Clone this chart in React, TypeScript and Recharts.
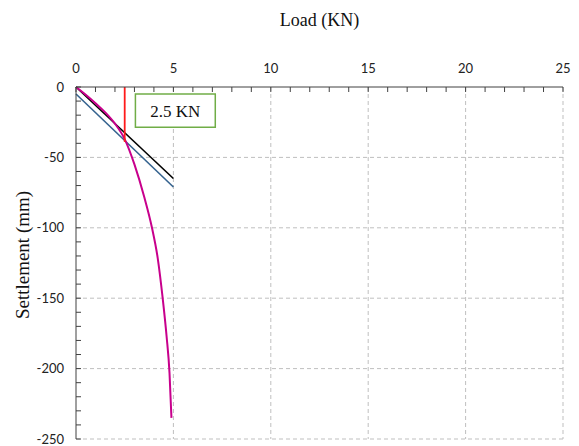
import React from 'react';
import { LineChart, Line, XAxis, YAxis, CartesianGrid, ReferenceArea } from 'recharts';

// Load (KN) vs settlement (mm) readings
const curveLoad = [0, 0.5, 1, 1.5, 2, 2.5, 3, 3.5, 3.9, 4.2, 4.45, 4.65, 4.8, 4.9];
const curveSettle = [0, -5.5, -11.5, -18, -26, -37, -55, -78, -100, -122, -150, -177, -203, -235];

const blackLoad = [0, 5];
const blackSettle = [0, -65];

const blueLoad = [0, 5];
const blueSettle = [-5, -71];

const redLoad = [2.5, 2.5];
const redSettle = [0, -39];

const xTicks = [...Array(26).keys()];
const yTicks = [...Array(26).keys()].map(i => -i * 10);
const xMajor = [5, 10, 15, 20, 25];
const yMajor = [-50, -100, -150, -200, -250];

const toPoints = (xs: number[], ys: number[]) => xs.map((x, i) => ({ x, y: ys[i] }));

const tickStyle = { fontFamily: 'Lato, sans-serif', fontSize: 13, fill: '#222' };
const serif = '"Liberation Serif", "Times New Roman", serif';

const App: React.FC = () => {
  return (
    <div style={{ position: 'absolute', left: 0, top: 0, background: '#fff' }}>
      <LineChart
        width={579}
        height={446}
        margin={{ top: 47, right: 16, bottom: 7, left: 16 }}
      >
        <CartesianGrid
          stroke="#BFBFBF"
          strokeDasharray="4 3"
          horizontalValues={yMajor}
          verticalValues={xMajor}
        />
        <XAxis
          type="number"
          dataKey="x"
          orientation="top"
          domain={[0, 25]}
          ticks={xTicks}
          interval={0}
          height={40}
          tickSize={-5}
          tickMargin={19}
          tick={tickStyle}
          tickFormatter={(v: number) => (v % 5 === 0 ? String(v) : '')}
          stroke="#404040"
          label={{ value: 'Load (KN)', position: 'top', offset: 21, fontFamily: serif, fontSize: 18, fill: '#111' }}
        />
        <YAxis
          type="number"
          dataKey="y"
          domain={[-250, 0]}
          ticks={yTicks}
          interval={0}
          width={60}
          tickSize={-5}
          tickMargin={17}
          tick={tickStyle}
          tickFormatter={(v: number) => (v % 50 === 0 ? String(v) : '')}
          stroke="#404040"
          label={{
            content: ({ viewBox }: any) => {
              const cx = viewBox.x + 6;
              const cy = viewBox.y + viewBox.height / 2 - 8;
              return (
                <text
                  x={cx}
                  y={cy}
                  transform={`rotate(-90 ${cx} ${cy})`}
                  textAnchor="middle"
                  dominantBaseline="central"
                  fontFamily={serif}
                  fontSize={19}
                  fill="#111"
                >
                  Settlement (mm)
                </text>
              );
            },
          }}
        />
        <Line
          data={toPoints(blackLoad, blackSettle)}
          dataKey="y"
          type="linear"
          stroke="#000000"
          strokeWidth={1.6}
          dot={false}
          isAnimationActive={false}
        />
        <Line
          data={toPoints(blueLoad, blueSettle)}
          dataKey="y"
          type="linear"
          stroke="#35638F"
          strokeWidth={1.6}
          dot={false}
          isAnimationActive={false}
        />
        <Line
          data={toPoints(curveLoad, curveSettle)}
          dataKey="y"
          type="monotone"
          stroke="#C8008C"
          strokeWidth={2}
          dot={false}
          isAnimationActive={false}
        />
        <Line
          data={toPoints(redLoad, redSettle)}
          dataKey="y"
          type="linear"
          stroke="#FF1A1A"
          strokeWidth={1.8}
          dot={false}
          isAnimationActive={false}
        />
        <ReferenceArea
          x1={3.05}
          x2={7.15}
          y1={-5}
          y2={-28.5}
          fill="#ffffff"
          fillOpacity={1}
          stroke="#70AD47"
          strokeWidth={1.5}
          label={{ value: '2.5 KN', position: 'center', fontFamily: serif, fontSize: 17, fill: '#111' }}
        />
      </LineChart>
    </div>
  );
};

export default App;
